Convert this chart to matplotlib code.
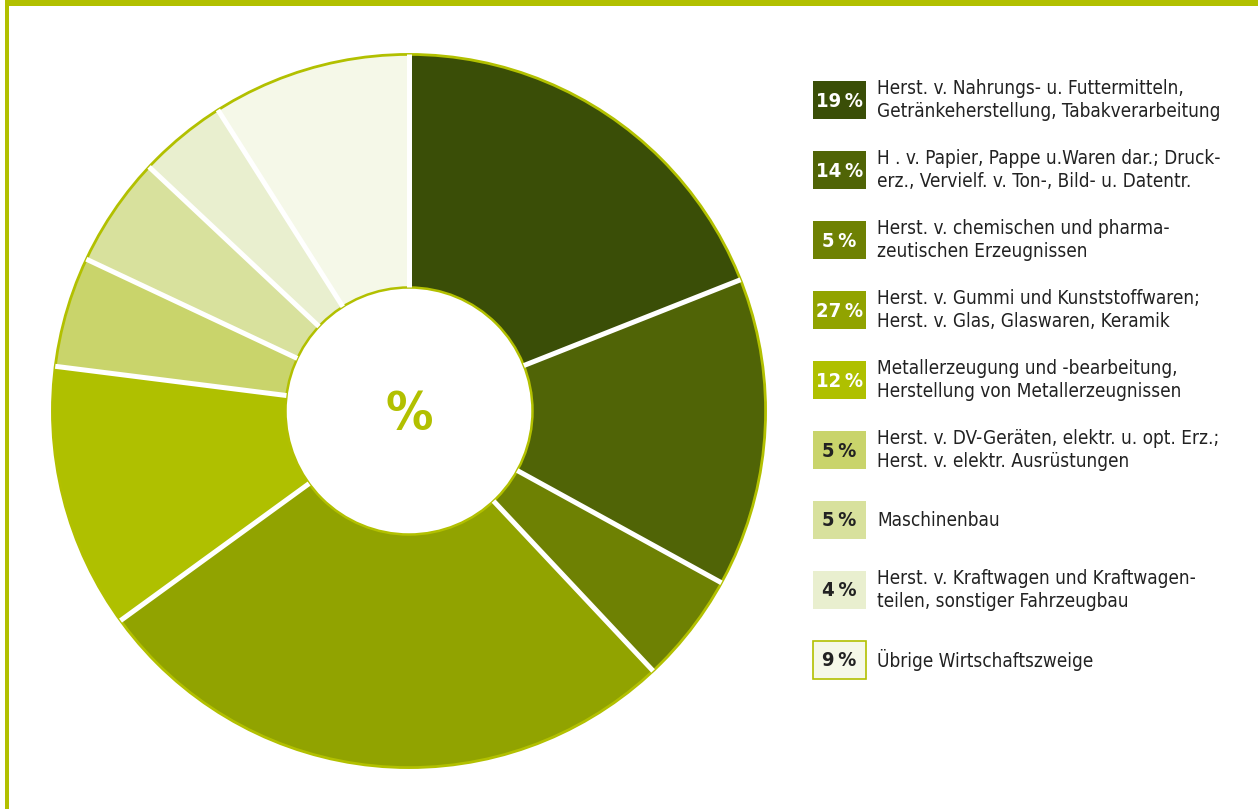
import numpy as np
import matplotlib
matplotlib.use("Agg")
import matplotlib.pyplot as plt
from matplotlib.patches import Rectangle, Circle

# Anteile der Wirtschaftszweige (in %)
shares = [19, 14, 5, 27, 12, 5, 5, 4, 9]
share_labels = ["19\u2009%", "14\u2009%", "5\u2009%", "27\u2009%", "12\u2009%",
                "5\u2009%", "5\u2009%", "4\u2009%", "9\u2009%"]
branches = [
    "Herst. v. Nahrungs- u. Futtermitteln,\nGetränkeherstellung, Tabakverarbeitung",
    "H . v. Papier, Pappe u.Waren dar.; Druck-\nerz., Vervielf. v. Ton-, Bild- u. Datentr.",
    "Herst. v. chemischen und pharma-\nzeutischen Erzeugnissen",
    "Herst. v. Gummi und Kunststoffwaren;\nHerst. v. Glas, Glaswaren, Keramik",
    "Metallerzeugung und -bearbeitung,\nHerstellung von Metallerzeugnissen",
    "Herst. v. DV-Geräten, elektr. u. opt. Erz.;\nHerst. v. elektr. Ausrüstungen",
    "Maschinenbau",
    "Herst. v. Kraftwagen und Kraftwagen-\nteilen, sonstiger Fahrzeugbau",
    "Übrige Wirtschaftszweige",
]
colors = ["#3a4e07", "#506406", "#6e8103", "#91a300", "#afc000",
          "#c9d46b", "#d8e19d", "#e9efcf", "#f5f8e8"]
label_colors = ["white"] * 5 + ["#222222"] * 4

GREEN = "#b2c000"
FONT = ["DejaVu Sans"]

W, H = 1258, 809
fig = plt.figure(figsize=(W / 100, H / 100), dpi=100)

# Rahmen oben und links
frame = fig.add_axes([0, 0, 1, 1])
frame.set_xlim(0, W)
frame.set_ylim(H, 0)
frame.axis("off")
frame.add_patch(Rectangle((5, 0), W - 5, 6, color=GREEN, lw=0))
frame.add_patch(Rectangle((5, 0), 3.5, H, color=GREEN, lw=0))

# Ringdiagramm
cx, cy, r_out, r_in = 409, 411, 358, 124
ax = fig.add_axes([(cx - r_out) / W, (H - cy - r_out) / H, 2 * r_out / W, 2 * r_out / H])
hole = r_in / r_out
ax.pie(shares, colors=colors, startangle=90, counterclock=False, radius=1,
       wedgeprops=dict(width=1 - hole, linewidth=0))
ax.set_xlim(-1.004, 1.004)
ax.set_ylim(-1.004, 1.004)
ax.axis("off")

# weiße Trennlinien zwischen den Segmenten
bounds = 90 - 360 * np.cumsum([0] + shares[:-1]) / sum(shares)
for a in np.deg2rad(bounds):
    ax.plot([hole * np.cos(a), np.cos(a)], [hole * np.sin(a), np.sin(a)],
            color="white", lw=3.6, solid_capstyle="butt")

ax.add_patch(Circle((0, 0), 1, fill=False, ec=GREEN, lw=2))
ax.add_patch(Circle((0, 0), hole - 0.006, fc="white", ec="none"))
ax.add_patch(Circle((0, 0), hole, fill=False, ec=GREEN, lw=1.8))
ax.text(0, -0.012, "%", ha="center", va="center", color=GREEN, fontsize=38,
        fontweight="bold", family=FONT, fontstretch="condensed")

# Legende
for i, (lab, txt) in enumerate(zip(share_labels, branches)):
    y0 = 81 + 70 * i
    frame.add_patch(Rectangle((813, y0), 53, 38, fc=colors[i],
                              ec=GREEN if i == 8 else "none", lw=1.2))
    frame.text(839.5, y0 + 20, lab, ha="center", va="center", color=label_colors[i],
               fontsize=14.5, fontweight="bold", family=FONT, fontstretch="condensed")
    frame.text(877, y0 + 19, txt, ha="left", va="center", color="#222222",
               fontsize=13.6, family=FONT, fontstretch="condensed", linespacing=1.22)

fig.savefig("out.png", dpi=100, facecolor="white")
